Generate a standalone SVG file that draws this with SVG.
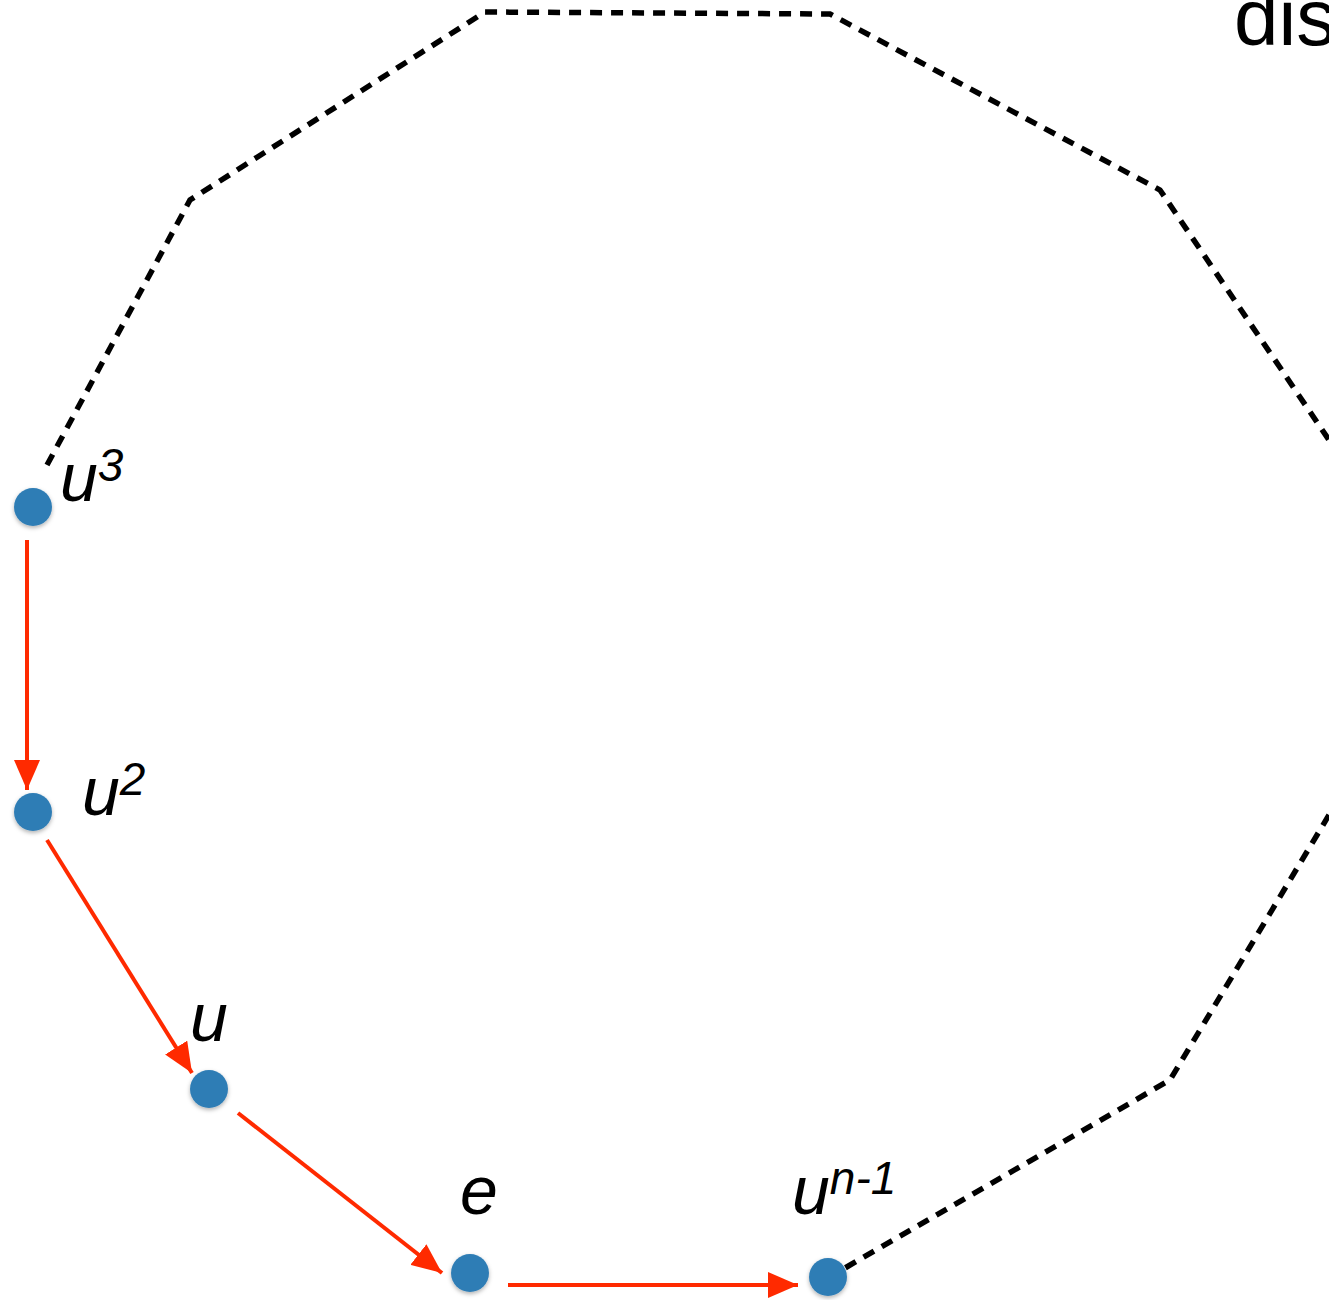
<svg xmlns="http://www.w3.org/2000/svg" width="1329" height="1300" viewBox="0 0 1329 1300">
<style>
.dash{fill:none;stroke:#000;stroke-width:5.5;stroke-dasharray:12 9}
.arr{fill:none;stroke:#ff2a00;stroke-width:4}
.node{fill:#2f7db5}
.lbl{font-family:"Liberation Sans",Arial,sans-serif;font-style:italic;font-size:68px;fill:#000}
.sup{font-size:46px}
</style>
<defs>
<marker id="ahb" viewBox="0 0 30 26" refX="30" refY="13" markerWidth="30" markerHeight="26" orient="auto" markerUnits="userSpaceOnUse">
<path d="M0,0 L30,13 L0,26 z" fill="#ff2a00"/>
</marker>
<filter id="sh" x="-50%" y="-50%" width="200%" height="200%">
<feDropShadow dx="0" dy="2" stdDeviation="2" flood-color="#000" flood-opacity="0.3"/>
</filter>
</defs>
<text x="1234" y="45" font-family="'Liberation Sans',Arial,sans-serif" font-size="80" fill="#000">dis</text>
<g id="connectors">
<polyline class="dash" points="47,465 190,200 485,12 830,14 1160,190 1329,440"/>
<polyline class="dash" points="1329,815 1170,1080 845,1268"/>
<line class="arr" x1="27" y1="540" x2="27" y2="790" marker-end="url(#ahb)"/>
<line class="arr" x1="47" y1="840" x2="192" y2="1073" marker-end="url(#ahb)"/>
<line class="arr" x1="238" y1="1113" x2="442" y2="1273" marker-end="url(#ahb)"/>
<line class="arr" x1="508" y1="1285" x2="798" y2="1285" marker-end="url(#ahb)"/>
</g>
<g id="n-u3"><circle class="node" cx="33" cy="507" r="19" filter="url(#sh)"/><text class="lbl" x="60" y="501">u<tspan class="sup" dy="-20">3</tspan></text></g>
<g id="n-u2"><circle class="node" cx="33" cy="812" r="19" filter="url(#sh)"/><text class="lbl" x="82" y="815">u<tspan class="sup" dy="-20">2</tspan></text></g>
<g id="n-u"><circle class="node" cx="209" cy="1089" r="19" filter="url(#sh)"/><text class="lbl" x="190" y="1041">u</text></g>
<g id="n-e"><circle class="node" cx="470" cy="1273" r="19" filter="url(#sh)"/><text class="lbl" x="460" y="1214">e</text></g>
<g id="n-un1"><circle class="node" cx="828" cy="1277" r="19" filter="url(#sh)"/><text class="lbl" x="792" y="1214">u<tspan class="sup" dy="-20">n-1</tspan></text></g>
</svg>
